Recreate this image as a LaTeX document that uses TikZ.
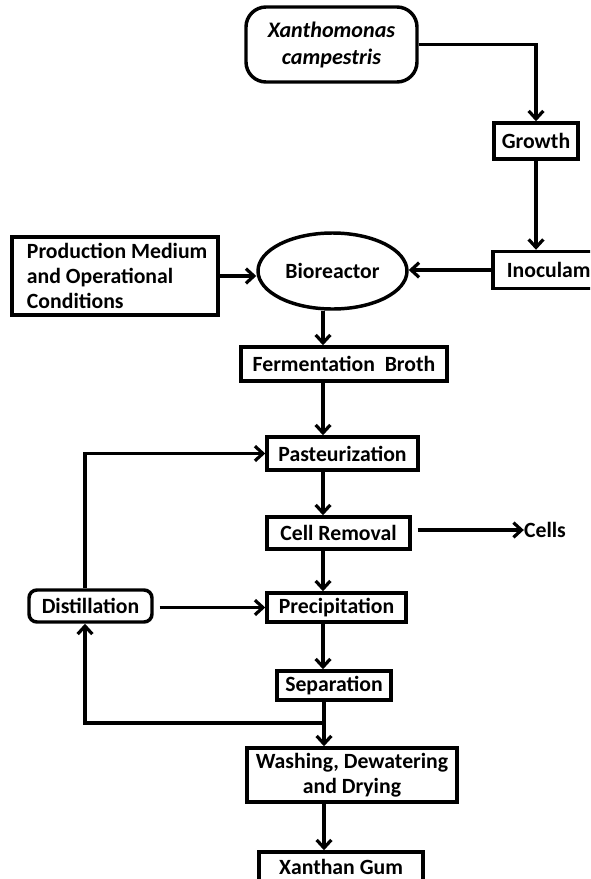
\documentclass[tikz,border=0pt]{standalone}
\usepackage{fontspec}
\setmainfont{Carlito}
\usetikzlibrary{arrows.meta,shapes.geometric}
\begin{document}
\begin{tikzpicture}[x=0.75pt,y=-0.75pt,
  every node/.style={font=\bfseries\fontsize{16.3}{18.75}\selectfont, inner sep=0pt, text=black},
  sz/.style 2 args={minimum width=#1*0.75pt, minimum height=#2*0.75pt},
  box/.style={draw, line width=2.6pt, rectangle},
  rbox/.style={draw, line width=2.6pt, rectangle, rounded corners=#1},
  oval/.style={draw, line width=2.6pt, ellipse},
  conn/.style={line width=2.4pt, -{Straight Barb[length=6pt,width=11pt]}}]
\path[use as bounding box, fill=white] (0,0) rectangle (590,879);
\clip (0,0) rectangle (590,879);

% nodes
\node[rbox=15pt, sz={171}{75}, align=center,
      font=\bfseries\itshape\fontsize{16.6}{20.25}\selectfont] (xan) at (331.5,44.5) {Xanthomonas\\campestris};
\node[box, sz={84}{36}] (growth) at (536,141) {Growth};
\node[box, sz={107}{37}] (inoc) at (546.5,270) {\hspace*{0.2em}Inoculam};
\node[oval, sz={149}{76}] (bio) at (332.5,271) {Bioreactor};
\node[box, sz={206}{78}, align=left] (prod) at (115,276) {\hspace*{0.2em}Production Medium\\\hspace*{0.2em}and Operational\\\hspace*{0.2em}Conditions};
\node[box, sz={206}{34}] (ferm) at (344,364) {Fermentation\ \ Broth};
\node[box, sz={151}{33}] (past) at (342.5,453.5) {Pasteurization};
\node[box, sz={143}{32}] (cell) at (338.5,533) {Cell Removal};
\node (cells) at (545,530) {Cells};
\node[box, sz={139}{29}] (prec) at (336.5,607.5) {Precipitation};
\node[rbox=6pt, sz={123}{32}] (dist) at (90.5,606) {Distillation};
\node[box, sz={114}{29}] (sep) at (334,685.5) {Separation};
\node[box, sz={210}{54}, align=center] (wash) at (352,775) {Washing, Dewatering\\and Drying};
\node[box, sz={164}{30}] (xg) at (341,867) {Xanthan Gum};

% helper coordinates
\coordinate (spine) at (323,0);
\coordinate (spineb) at (324,0);
\coordinate (loopx) at (85,0);
\coordinate (jn) at (324,723);

% connectors
\draw[conn] (xan.east) -| (growth.north);
\draw[conn] (growth.south) -- (growth.south |- inoc.north);
\draw[conn] (inoc.west) -- (inoc.west -| bio.east);
\draw[conn] (prod.east) -- (prod.east -| bio.west);
\draw[conn] (bio.south -| spine) -- (ferm.north -| spine);
\draw[conn] (ferm.south -| spine) -- (past.north -| spine);
\draw[conn] (past.south -| spine) -- (cell.north -| spine);
\draw[conn] (cell.south -| spine) -- (prec.north -| spine);
\draw[conn] (prec.south -| spine) -- (sep.north -| spine);
\draw[conn] (sep.south -| spineb) -- (wash.north -| spineb);
\draw[conn] (wash.south -| spineb) -- (xg.north -| spineb);
\draw[conn, shorten <=4.5pt] (cell.east |- cells.west) -- (cells.west);
\draw[conn, shorten <=4.5pt] (dist.east |- prec.west) -- (prec.west);
\draw[conn] (jn) -- (jn -| loopx) -- (dist.south -| loopx);
\draw[conn] (dist.north -| loopx) |- (past.west);
\end{tikzpicture}
\end{document}
